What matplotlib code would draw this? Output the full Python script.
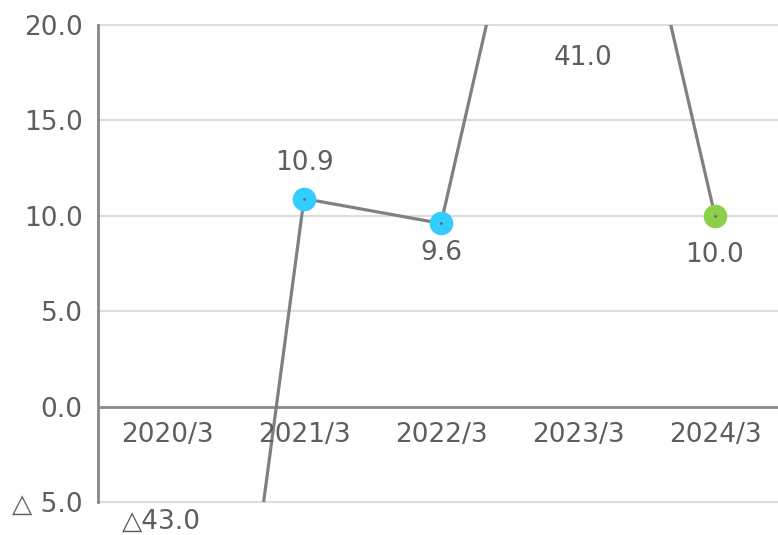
import matplotlib
matplotlib.use("Agg")
import matplotlib.pyplot as plt

plt.rcParams['font.family'] = ['DejaVu Sans']

# data
years = ['2020/3', '2021/3', '2022/3', '2023/3', '2024/3']
values = [-43.0, 10.9, 9.6, 41.0, 10.0]
labels = ['\u25b343.0', '10.9', '9.6', '41.0', '10.0']
yticks = [-5, 0, 5, 10, 15, 20]
ytick_labels = ['\u25b3 5.0', '0.0', '5.0', '10.0', '15.0', '20.0']
marker_colors = [None, '#33ccff', '#33ccff', None, '#8cd04a']

txt = '#5e5e5e'
fig = plt.figure(figsize=(7.78, 5.35), dpi=100)
ax = fig.add_axes([98/778, 33/535, 680/778, 477/535])

x = list(range(len(years)))
ax.set_xlim(-0.504, 4.46)
ax.set_ylim(-5, 20)

for t in yticks:
    if t == 0:
        ax.axhline(t, color='#888888', lw=2, zorder=1)
    else:
        ax.axhline(t, color='#dddddd', lw=1.5, zorder=1, clip_on=False)

ax.plot(x, values, color='#808080', lw=2.3, zorder=2)
for i, v in enumerate(values):
    if marker_colors[i]:
        ax.plot(i, v, 'o', ms=17, color=marker_colors[i], mec='none', zorder=3)
        ax.plot(i, v, 'o', ms=1, color='#666666', zorder=4)

# value labels
lab_pos = [(-0.04, -6.05), (1, 12.75), (2, 8.07), (3.04, 18.25), (4, 7.95)]
for (px, py), s in zip(lab_pos, labels):
    ax.text(px, py, s, ha='center', va='center', fontsize=19, color=txt, clip_on=False)

# category labels drawn at zero line
for i, y in enumerate(years):
    ax.text(i, -1.5, y, ha='center', va='center', fontsize=19, color=txt, zorder=5)

ax.set_yticks(yticks)
ax.set_yticklabels(ytick_labels, fontsize=19, color=txt)
ax.set_xticks([])
ax.tick_params(axis='y', length=0, pad=11)
for s in ['top', 'right', 'bottom']:
    ax.spines[s].set_visible(False)
ax.spines['left'].set_color('#888888')
ax.spines['left'].set_linewidth(2)

fig.savefig('out.png', dpi=100)
